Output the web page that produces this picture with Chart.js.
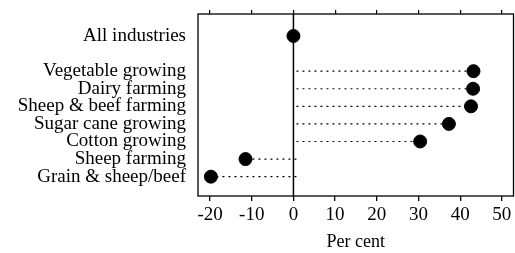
<!DOCTYPE html>
<html>
<head>
<meta charset="utf-8">
<script src="https://cdn.jsdelivr.net/npm/chart.js@4/dist/chart.umd.min.js"></script>
<style>
  html, body { margin: 0; padding: 0; background: #fff; overflow: hidden; }
  #wrap { position: relative; width: 521px; height: 253px; }
  #dot-chart { display: block; }
</style>
</head>
<body>
<div id="wrap"><canvas id="dot-chart"></canvas></div>
<script>
const industries = ['All industries', 'Vegetable growing', 'Dairy farming', 'Sheep & beef farming',
  'Sugar cane growing', 'Cotton growing', 'Sheep farming', 'Grain & sheep/beef'];
const rows = [0, 2, 3, 4, 5, 6, 7, 8];   // vertical slot of each industry (gap after "All industries")
const change = [0, 43.2, 43.1, 42.6, 37.3, 30.4, -11.5, -19.8];
const xTicks = [-20, -10, 0, 10, 20, 30, 40, 50];

const serif = '"Liberation Serif", "DejaVu Serif", serif';

const points = industries.map((name, i) => ({ x: change[i], y: rows[i], name: name }));

// dotted leaders from zero to each dot, plus the frame
const leaders = {
  id: 'leaders',
  beforeDatasetsDraw(chart) {
    const { ctx, scales: { x, y }, chartArea: a } = chart;
    ctx.save();
    ctx.strokeStyle = '#000';
    ctx.lineWidth = 1.2;
    ctx.setLineDash([2, 4]);
    points.forEach(p => {
      if (p.x === 0) return;
      ctx.beginPath();
      ctx.moveTo(x.getPixelForValue(0) + 3, y.getPixelForValue(p.y));
      ctx.lineTo(x.getPixelForValue(p.x), y.getPixelForValue(p.y));
      ctx.stroke();
    });
    ctx.setLineDash([]);
    ctx.lineWidth = 1.5;
    ctx.beginPath();
    ctx.moveTo(x.getPixelForValue(0), a.top);
    ctx.lineTo(x.getPixelForValue(0), a.bottom);
    ctx.stroke();
    ctx.lineWidth = 1.3;
    ctx.strokeRect(a.left, a.top, a.right - a.left, a.bottom - a.top);
    ctx.restore();
  }
};

new Chart(document.getElementById('dot-chart').getContext('2d'), {
  type: 'scatter',
  data: {
    datasets: [{
      data: points,
      backgroundColor: '#000',
      borderColor: '#000',
      pointRadius: 6.5,
      pointHoverRadius: 6.5
    }]
  },
  options: {
    responsive: true,
    maintainAspectRatio: false,
    animation: false,
    layout: { padding: { top: 0, right: 0, left: 0, bottom: 0 } },
    plugins: { legend: { display: false }, tooltip: { enabled: false } },
    scales: {
      x: {
        type: 'linear',
        min: -22.9,
        max: 52.8,
        afterBuildTicks: s => { s.ticks = xTicks.map(v => ({ value: v })); },
        afterFit: s => { s.height = 57; },
        grid: { drawOnChartArea: false, drawTicks: true, tickLength: 5, color: '#000', lineWidth: 1.3 },
        border: { display: false },
        ticks: { color: '#000', padding: 3, font: { family: serif, size: 19 }, maxRotation: 0 },
        title: { display: true, text: 'Per cent', color: '#000', font: { family: serif, size: 18 }, padding: { top: 11, bottom: 0 } }
      },
      x2: {
        type: 'linear',
        position: 'top',
        min: -22.9,
        max: 52.8,
        afterBuildTicks: s => { s.ticks = xTicks.map(v => ({ value: v })); },
        afterFit: s => { s.height = 14; },
        grid: { drawOnChartArea: false, drawTicks: true, tickLength: 4, color: '#000', lineWidth: 1.2 },
        border: { display: false },
        ticks: { display: false }
      },
      y: {
        type: 'linear',
        reverse: true,
        min: -1.25,
        max: 9.1,
        afterBuildTicks: s => { s.ticks = rows.map(v => ({ value: v })); },
        afterFit: s => { s.width = 198; s.paddingTop = 0; s.paddingBottom = 0; },
        grid: { display: false },
        border: { display: false },
        ticks: {
          color: '#000',
          padding: 4,
          font: { family: serif, size: 19 },
          callback: v => industries[rows.indexOf(v)]
        }
      }
    }
  },
  plugins: [leaders]
});
</script>
</body>
</html>
